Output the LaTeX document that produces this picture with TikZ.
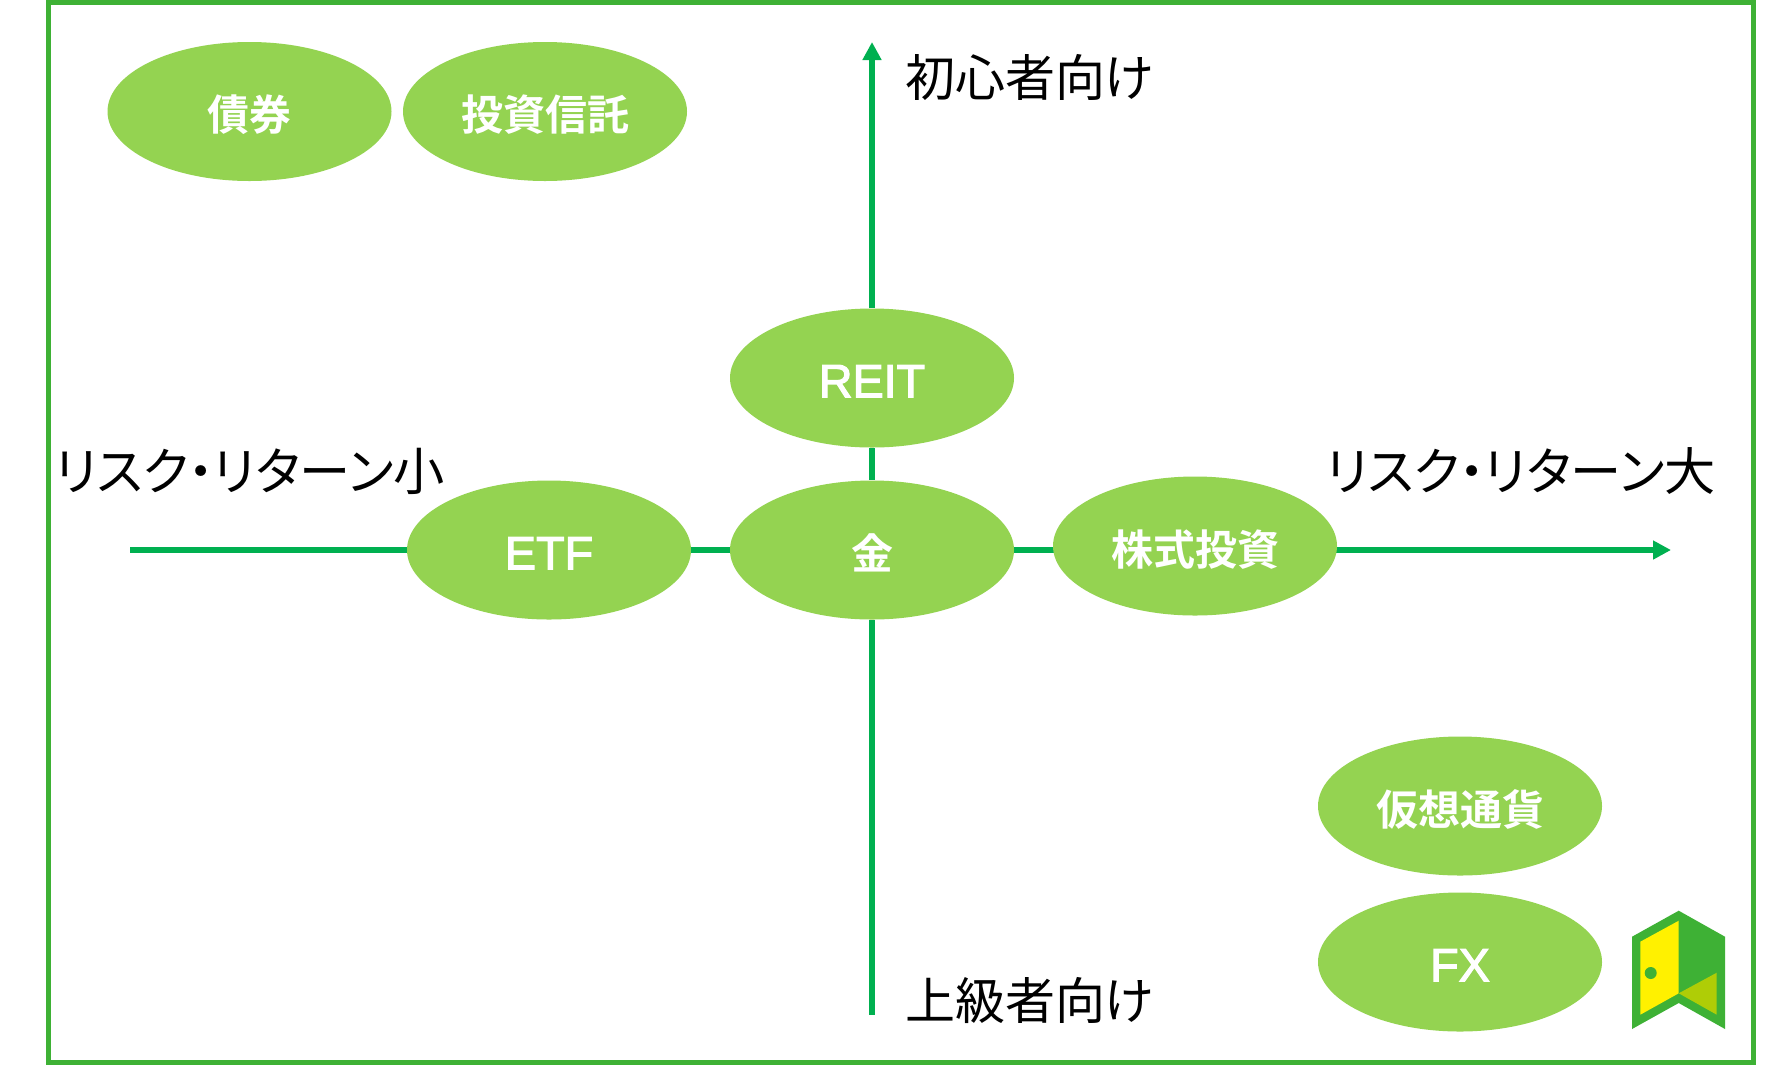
\documentclass[tikz,border=0pt]{standalone}
\usepackage{fontspec}
\usetikzlibrary{shapes.geometric,arrows.meta,backgrounds}
\newfontfamily\jpfont[RawFeature=+palt]{Noto Sans CJK JP}
\newfontfamily\jpbold[BoldFont={Noto Sans CJK JP Bold}]{Noto Sans CJK JP}
\newfontfamily\latinpill[FakeBold=2.5]{Liberation Sans}
\definecolor{framegreen}{HTML}{3EB135}
\definecolor{axisgreen}{HTML}{00B050}
\definecolor{pillgreen}{HTML}{94D351}
\definecolor{dooryellow}{HTML}{FFF100}
\definecolor{doorlime}{HTML}{AFCD06}
\newcommand{\pxunit}{*0.75pt}
% sets a label slightly low inside its ellipse without changing its box
\newcommand{\lowered}[1]{\raisebox{-2.4pt}[\height][\depth]{#1}}
\tikzset{
  assetpill/.style={ellipse,fill=pillgreen,minimum width=284\pxunit,minimum height=139\pxunit,inner sep=0pt,
    text=white,font=\jpbold\bfseries\fontsize{31.5}{31.5}\selectfont},
  latintext/.style={font=\latinpill\fontsize{35}{35}\selectfont},
  axisline/.style={draw=axisgreen,line width=6\pxunit},
  axistip/.style={-{Triangle[length=18\pxunit,width=18\pxunit]}},
  axislabel/.style={text=black,inner sep=0pt,font=\jpfont\fontsize{37.5}{37.5}\selectfont},
  risklabel/.style={axislabel,font=\jpfont\fontsize{38.4}{38.4}\selectfont}
}
\begin{document}
\begin{tikzpicture}[x=0.75pt,y=-0.75pt]
\useasboundingbox (0,0) rectangle (1772,1064.6);
\draw[framegreen,line width=3.75pt] (48,2.5) rectangle (1753.5,1062.5);

% investment products
\node[assetpill] (bond)   at (249.5,111.5) {\lowered{債券}};
\node[assetpill] (trust)  at (545,111.5)   {\lowered{投資信託}};
\node[assetpill,latintext] (reit) at (872,378) {\lowered{REIT}};
\node[assetpill,latintext] (etf)  at (549,550) {\lowered{ETF}};
\node[assetpill] (gold)   at (872,550)     {\lowered{金}};
\node[assetpill] (stock)  at (1195,546)    {\lowered{株式投資}};
\node[assetpill] (crypto) at (1460,806)    {\lowered{仮想通貨}};
\node[assetpill,latintext] (fx) at (1460,962) {\lowered{FX}};

% free ends of the two axes
\coordinate (xstart) at (130,550);
\coordinate (xend)   at (1671,550);
\coordinate (ytop)   at (872,42);
\coordinate (ybot)   at (872,1015);

% axes run behind the ellipses
\begin{scope}[on background layer]
  \fill[white] (0,0) rectangle (1772,1065);
  \draw[axisline] (xstart) -- (etf);
  \draw[axisline] (etf) -- (gold);
  \draw[axisline] (gold) -- (stock.center |- gold);
  \draw[axisline,axistip] (stock.center |- xend) -- (xend);
  \draw[axisline,axistip] (reit) -- (ytop);
  \draw[axisline] (reit) -- (gold);
  \draw[axisline] (gold) -- (ybot);
\end{scope}

% axis captions
\node[axislabel] (lbeginner) at (1029.5,77)  {初心者向け};
\node[axislabel] (lexpert)   at (1029.5,1000) {上級者向け};
\node[risklabel] (lsmall)    at (250,471)    {リスク・リターン小};
\node[risklabel] (lbig)      at (1521,471)   {リスク・リターン大};

% door emblem
\fill[framegreen] (1632,936.7) -- (1678.7,910.7) -- (1725,936.7) -- (1725,1029) -- (1678.7,1003) -- (1632,1029) -- cycle;
\fill[dooryellow] (1640.3,941.7) -- (1678.7,920.7) -- (1678.7,993.3) -- (1640.3,1014.7) -- cycle;
\fill[doorlime] (1678.7,993.3) -- (1716.7,972.7) -- (1716.7,1014.7) -- cycle;
\fill[framegreen] (1650.7,973) circle[radius=6];
\end{tikzpicture}
\end{document}
